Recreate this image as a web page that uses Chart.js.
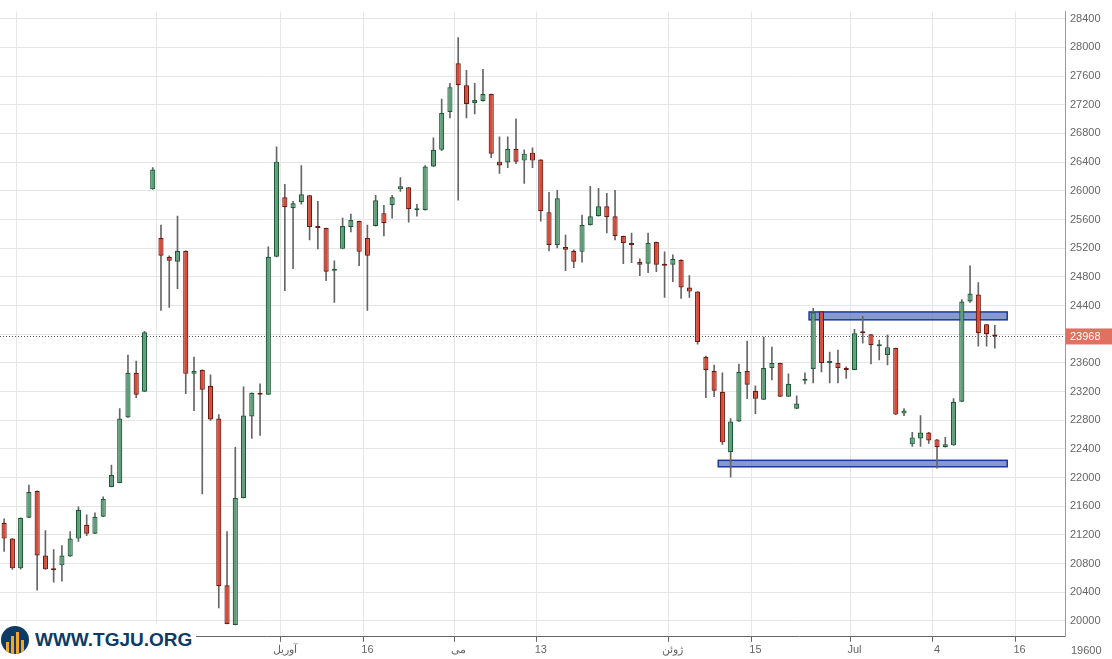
<!DOCTYPE html>
<html><head><meta charset="utf-8">
<script src="https://cdn.jsdelivr.net/npm/chart.js@4/dist/chart.umd.min.js"></script>
<style>
html,body{margin:0;padding:0;background:#fff;}
#wrap{position:relative;width:1112px;height:659px;}
#logo{position:absolute;left:0;top:624px;height:32px;display:flex;align-items:center;background:#fff;padding-right:4px;font-family:"Liberation Sans",Arial,sans-serif;font-weight:bold;font-size:19px;color:#0d3b66;}
#logo .ic{width:28px;height:28px;border-radius:50%;background:#0d3b66;margin:0 6px 0 1px;position:relative;overflow:hidden;}
#logo .ic i{position:absolute;bottom:0;width:3px;background:#f5a623;}
</style></head><body>
<div id="wrap"><canvas id="c" width="1112" height="659"></canvas>
<div id="logo"><div class="ic"><i style="left:5px;height:12px"></i><i style="left:10px;height:18px"></i><i style="left:15px;height:22px"></i><i style="left:20px;height:14px"></i></div>WWW.TGJU.ORG</div></div>
<script>
const opens=[21370,21148,20733,21439,21813,20913,20733,20775,20899,21148,21342,21217,21453,21868,21923,22837,23460,23197,26020,25342,25079,25010,25162,23446,23501,23280,22823,20498,19944,21716,22851,23183,23155,25079,25909,25757,25840,25937,25494,25480,24885,25190,25494,25577,25342,25508,25688,25799,26020,26048,25729,25729,26338,26573,27100,27778,27473,27224,27252,27349,26407,26394,26587,26421,26532,26435,25702,25245,25217,25162,25148,25522,25646,25785,25646,25370,25273,25010,24982,25286,24968,24968,25037,24650,24594,23681,23487,23197,22352,22781,23487,23211,23086,23529,23598,23128,22961,23349,23515,24318,23598,23598,23515,23501,24027,23999,23833,23709,23806,22892,22463,22546,22629,22532,22422,22449,23058,24456,24553,24138,23985];
const highs=[21425,21148,21439,21896,21813,21259,20996,21051,21245,21591,21480,21508,21730,22172,22961,23709,23626,24041,26324,25522,25093,25646,25162,23681,23501,23432,22878,21245,22422,23266,23183,23307,25217,26615,26089,25854,26352,25937,25854,25480,25024,25619,25674,25577,25522,25937,25799,25937,26186,26048,25812,26352,26740,27279,27501,28137,27681,27501,27695,27349,26754,26754,27003,26573,26601,26435,25978,26006,25383,25176,25660,26062,26034,25965,26006,25370,25411,25051,25411,25286,25148,25107,25037,24816,24594,23695,23570,23460,22823,23584,23902,23280,23958,23819,23598,23446,23141,23460,24359,24318,23750,23778,23543,24069,24248,23999,23916,23986,23806,22961,22629,22864,22629,22532,22560,23100,24484,24954,24719,24138,24124];
const lows=[20968,20719,20720,21439,20428,20719,20539,20553,20899,21107,21190,21217,21453,21868,21923,22837,23114,23197,26020,24331,24373,24636,23169,22934,21771,22795,20180,19958,19944,21716,22546,22588,23155,25079,24608,24913,25812,25314,25190,24747,24442,25190,25425,24954,24331,25508,25370,25619,25992,25563,25646,25729,26338,26560,27017,25868,27017,27072,27252,26463,26242,26324,26380,26103,26324,25577,25162,25203,24885,24926,25004,25522,25646,25411,25314,24982,24996,24816,24857,24871,24511,24733,24498,24511,23861,23114,23128,22463,22006,22781,23100,22892,23086,23363,23128,23128,22961,23307,23321,23473,23321,23321,23382,23501,23875,23584,23640,23570,22878,22864,22435,22435,22477,22130,22422,22449,23058,24442,23833,23833,23805];
const closes=[21148,20733,21439,21799,20913,20719,20705,20913,21148,21550,21217,21453,21702,22034,22823,23460,23155,24027,26297,25093,25024,25162,23446,23487,23224,22810,20484,19958,21716,22864,23183,23155,25079,26407,25771,25826,25951,25494,25480,24871,24913,25508,25591,25148,25093,25868,25549,25909,26062,25743,25743,26338,26573,27086,27446,27473,27210,27266,27349,26518,26352,26587,26407,26518,26421,25716,25245,25895,25176,25010,25522,25646,25785,25632,25370,25273,25245,24968,25273,24968,24954,25051,24650,24594,23889,23501,23211,22491,22781,23473,23294,23100,23529,23598,23128,23308,23031,23360,24304,23598,23612,23529,23501,24013,24013,23847,23861,23819,22878,22934,22560,22629,22518,22422,22463,23058,24456,24567,24013,23999,23968];
const xTickLabels={2:"",19:"",34:"آوریل",44:"16",55:"می",65:"13",81:"ژوئن",91:"15",103:"Jul",113:"4",123:"16"};
const zoneUpper={from:98,to:121,low:24200,high:24310};
const zoneLower={from:87,to:121,low:22150,high:22240};
const lastPrice=23968;
const yTicks=[20000,20400,20800,21200,21600,22000,22400,22800,23200,23600,24000,24400,24800,25200,25600,26000,26400,26800,27200,27600,28000,28400];
const nSlots=129;

const labels=[];for(let i=0;i<nSlots;i++)labels.push(i);
const bodies=[],wicks=[],fills=[],borders=[];
for(let i=0;i<nSlots;i++){
  if(i<opens.length){
    const o=opens[i],c=closes[i];
    bodies.push([Math.min(o,c),Math.max(o,c)]);
    wicks.push([lows[i],highs[i]]);
    const up=c>=o;
    fills.push(up?'#5e9e78':'#d94a38');
    borders.push(up?'#1f5a38':'#6e1a12');
  } else {bodies.push(null);wicks.push(null);fills.push('#fff');borders.push('#fff');}
}
const overlay={id:'ov',
 beforeDatasetsDraw(ch){const {ctx,scales:{x,y}}=ch;const w=x.getPixelForValue(1)-x.getPixelForValue(0);
  ctx.save();
  [zoneUpper,zoneLower].forEach(z=>{const x1=x.getPixelForValue(z.from)-w/2,x2=x.getPixelForValue(z.to)+w/2;const y1=y.getPixelForValue(z.high),y2=y.getPixelForValue(z.low);
   ctx.fillStyle='rgba(95,120,190,0.75)';ctx.fillRect(x1,y1,x2-x1,y2-y1);ctx.strokeStyle='#1a3a9a';ctx.lineWidth=1.5;ctx.strokeRect(x1,y1,x2-x1,y2-y1);});
  const yp=Math.round(y.getPixelForValue(lastPrice))+0.5;
  ctx.strokeStyle='#555';ctx.lineWidth=1;ctx.setLineDash([1,2]);ctx.beginPath();ctx.moveTo(ch.chartArea.left,yp);ctx.lineTo(ch.chartArea.right,yp);ctx.stroke();ctx.restore();},
 afterDraw(ch){const {ctx,scales:{y}}=ch;const yp=y.getPixelForValue(lastPrice);ctx.save();
  ctx.fillStyle='#e0705f';ctx.fillRect(ch.chartArea.right+1,yp-8,48,16);
  ctx.fillStyle='#fff';ctx.font='11px "Liberation Sans",Arial';ctx.textBaseline='middle';ctx.fillText(String(lastPrice),ch.chartArea.right+5,yp+0.5);
  ctx.fillStyle='#666';ctx.fillText('19600',ch.chartArea.right+6,651);
  ctx.restore();}
};
new Chart(document.getElementById('c'),{
 type:'bar',
 data:{labels,datasets:[
  {data:bodies,backgroundColor:fills,borderColor:borders,borderWidth:1.2,barPercentage:0.78,categoryPercentage:0.8,minBarLength:2,grouped:false,order:1,borderSkipped:false},
  {data:wicks,backgroundColor:'#666',barThickness:1,grouped:false,order:2}
 ]},
 plugins:[overlay],
 options:{responsive:false,animation:false,
  layout:{padding:{left:0,right:0,top:0,bottom:0}},
  plugins:{legend:{display:false},tooltip:{enabled:false}},
  scales:{
   x:{grid:{color:(c)=>xTickLabels[c.tick&&c.tick.value]!==undefined?'#e6e6e6':'rgba(0,0,0,0)',drawTicks:true,tickLength:5,tickColor:(c)=>xTickLabels[c.tick&&c.tick.value]!==undefined?'#666':'rgba(0,0,0,0)'},
      border:{color:'#666'},
      ticks:{autoSkip:false,maxRotation:0,padding:2,color:'#666',font:{size:11,family:'"Liberation Sans",Arial'},callback:(v)=>xTickLabels[v]!==undefined?xTickLabels[v]:''}},
   y:{position:'right',min:19778,max:28500,grid:{color:'#e6e6e6',drawTicks:false},border:{color:'#999'},
      afterBuildTicks:(s)=>{s.ticks=yTicks.map(v=>({value:v}));},afterFit:(s)=>{s.width=47;},
      ticks:{padding:5,color:'#666',font:{size:11,family:'"Liberation Sans",Arial'},callback:(v)=>String(v)}}
  }}
});
</script></body></html>
